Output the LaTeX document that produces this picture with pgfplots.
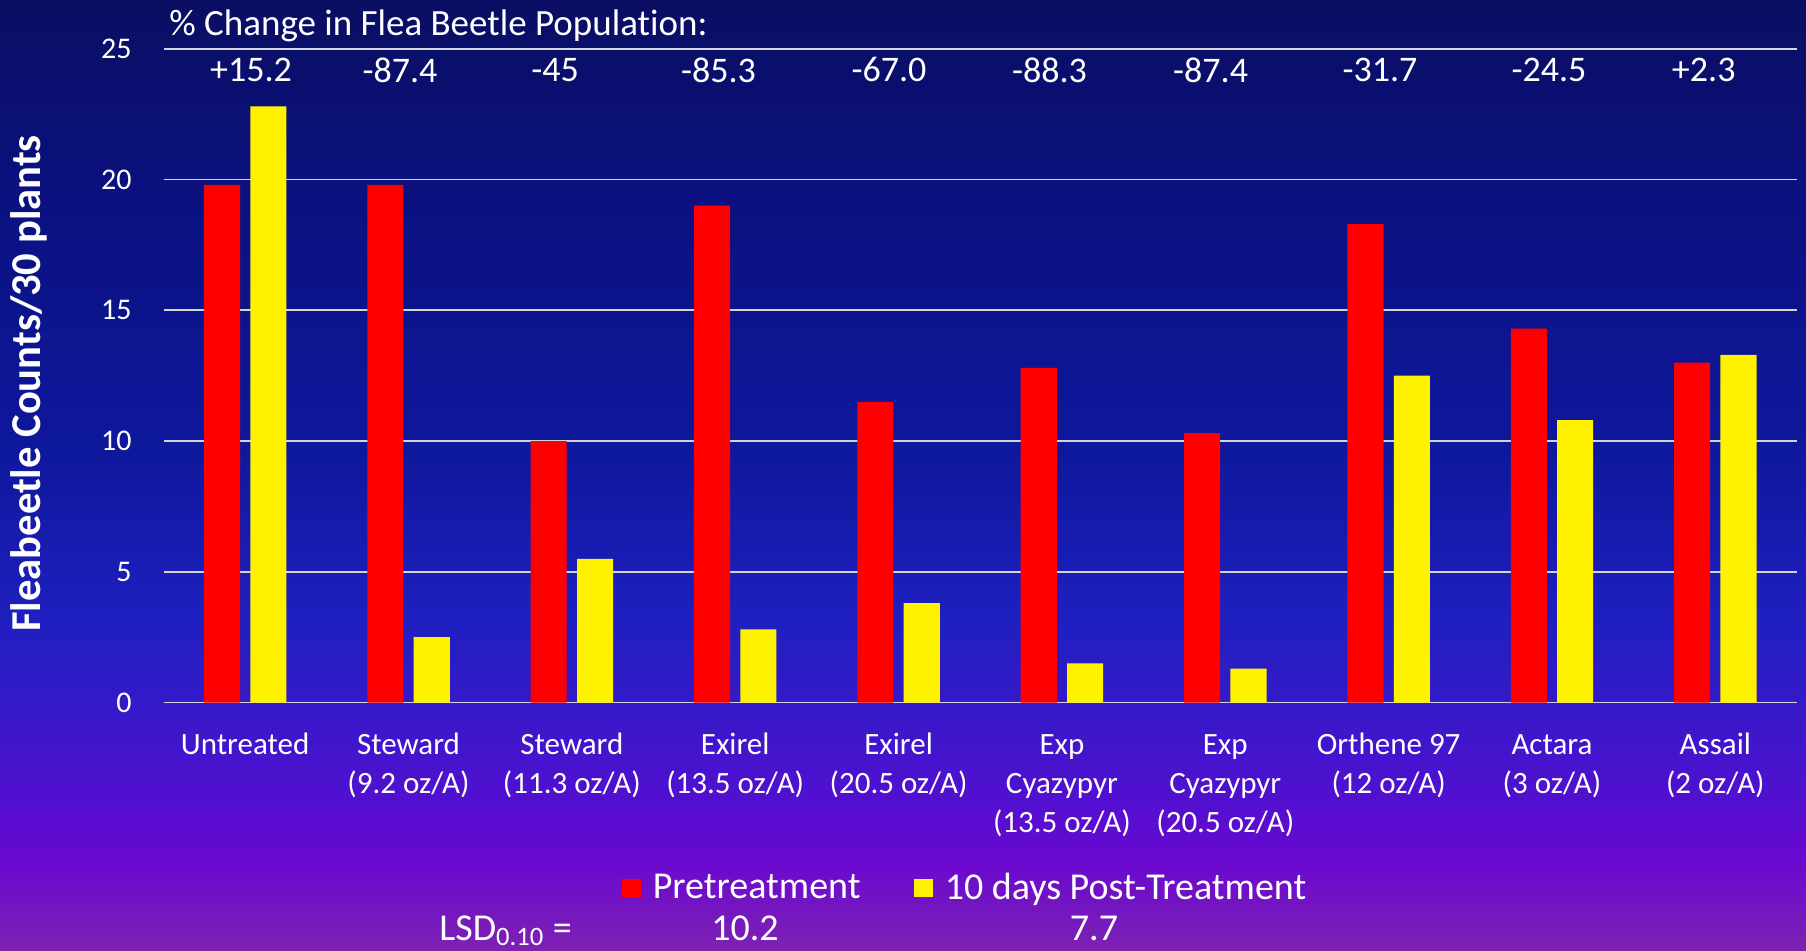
\documentclass[border=0pt]{standalone}
\usepackage{pgfplots}
\usepackage{pgfplotstable}
\pgfplotsset{compat=1.18}
\usepackage{fontspec}
\setmainfont{Carlito}[Ligatures={NoCommon}]

\definecolor{bg0}{HTML}{0A0E62}
\definecolor{bg1}{HTML}{0B1180}
\definecolor{bg2}{HTML}{0E189C}
\definecolor{bg3}{HTML}{1F1FC0}
\definecolor{bg4}{HTML}{341AC8}
\definecolor{bg5}{HTML}{5210D0}
\definecolor{bg6}{HTML}{6A08D0}
\definecolor{bg7}{HTML}{7D22B2}
\definecolor{gridc}{HTML}{D4D4DC}
\pgfdeclareverticalshading{bgshade}{100bp}{color(0bp)=(bg7); color(25bp)=(bg7); color(29.8bp)=(bg6); color(32.9bp)=(bg5); color(38.2bp)=(bg4); color(42.4bp)=(bg3); color(51.3bp)=(bg2); color(64.5bp)=(bg1); color(75bp)=(bg0); color(100bp)=(bg0)}

\pgfplotstableread{
x pre post
0 19.8 22.8
1 19.8 2.5
2 10.0 5.5
3 19.0 2.8
4 11.5 3.8
5 12.8 1.5
6 10.3 1.3
7 18.3 12.5
8 14.3 10.8
9 13.0 13.3
}\datatable

\begin{document}
\begin{tikzpicture}
\useasboundingbox (0,0) rectangle (903pt,475.5pt);
\shade[shading=bgshade] (0,0) rectangle (903pt,475.5pt);
\begin{axis}[
  at={(81.75pt,124.2pt)}, anchor=south west,
  scale only axis, width=816.75pt, height=326.9pt,
  xmin=-0.5, xmax=9.5, ymin=0, ymax=25,
  clip=false,
  axis line style={draw=none},
  major tick length=0pt,
  ytick={0,5,...,25},
  ymajorgrids,
  grid style={gridc, line width=0.9pt},
  xtick={0,...,9},
  xticklabels={{\strut Untreated},{\strut Steward\\(9.2 oz/A)},{\strut Steward\\(11.3 oz/A)},{\strut Exirel\\(13.5 oz/A)},{\strut Exirel\\(20.5 oz/A)},{\strut Exp\\Cyazypyr\\(13.5 oz/A)},{\strut Exp\\Cyazypyr\\(20.5 oz/A)},{\strut Orthene 97\\(12 oz/A)},{\strut Actara\\(3 oz/A)},{\strut Assail\\(2 oz/A)}},
  xticklabel style={anchor=north, align=center, inner sep=0pt, yshift=-12.05pt, text=white, font=\fontsize{15.5}{19.5}\selectfont},
  yticklabel style={anchor=east, inner sep=0pt, xshift=-15.75pt, text=white, font=\fontsize{15}{18}\selectfont},
  /pgf/number format/assume math mode=true,
  ylabel={Fleabeetle Counts/30 plants},
  every axis y label/.style={at={(axis description cs:-0.0825,0.488)}, rotate=90, anchor=center, text=white, font=\bfseries\fontsize{21.3}{24}\selectfont},
  ybar, bar width=0.221,
  legend columns=2,
  legend style={at={(0.2807,-0.2836)}, anchor=west, draw=none, fill=none, inner sep=0pt, text=white, font=\fontsize{19}{21}\selectfont, /tikz/every odd column/.append style={column sep=4pt}, /tikz/every even column/.append style={column sep=25pt}},
  legend image code/.code={\fill[#1] (0pt,-4.6pt) rectangle (9.2pt,4.6pt);},
]
\addplot[fill=red, draw=none, bar shift=-0.142] table[x=x, y=pre] {\datatable};
\addlegendentry{Pretreatment}
\addplot[fill=yellow, draw=none, bar shift=0.142] table[x=x, y=post] {\datatable};
\addlegendentry{10 days Post-Treatment}
\begin{scope}[every node/.style={text=white, font=\fontsize{18}{20}\selectfont, anchor=center, inner sep=0pt}]
\node at (axis cs:0.036,24.19) {+15.2};
\node at (axis cs:0.948,24.19) {-87.4};
\node at (axis cs:1.897,24.19) {-45};
\node at (axis cs:2.898,24.19) {-85.3};
\node at (axis cs:3.941,24.19) {-67.0};
\node at (axis cs:4.924,24.19) {-88.3};
\node at (axis cs:5.910,24.19) {-87.4};
\node at (axis cs:6.947,24.19) {-31.7};
\node at (axis cs:7.982,24.19) {-24.5};
\node at (axis cs:8.929,24.19) {+2.3};
\end{scope}
\end{axis}
\node[anchor=base west, inner sep=0pt, text=white, font=\fontsize{18.5}{20}\selectfont] at (84.5pt,457.5pt) {\% Change in Flea Beetle Population:};
\node[anchor=base west, inner sep=0pt, text=white, font=\fontsize{19}{20}\selectfont] at (219.5pt,5.3pt) {LSD\textsubscript{0.10} =};
\node[anchor=base, inner sep=0pt, text=white, font=\fontsize{19}{20}\selectfont] at (372.5pt,5.3pt) {10.2};
\node[anchor=base, inner sep=0pt, text=white, font=\fontsize{19}{20}\selectfont] at (547pt,5.3pt) {7.7};
\end{tikzpicture}
\end{document}
